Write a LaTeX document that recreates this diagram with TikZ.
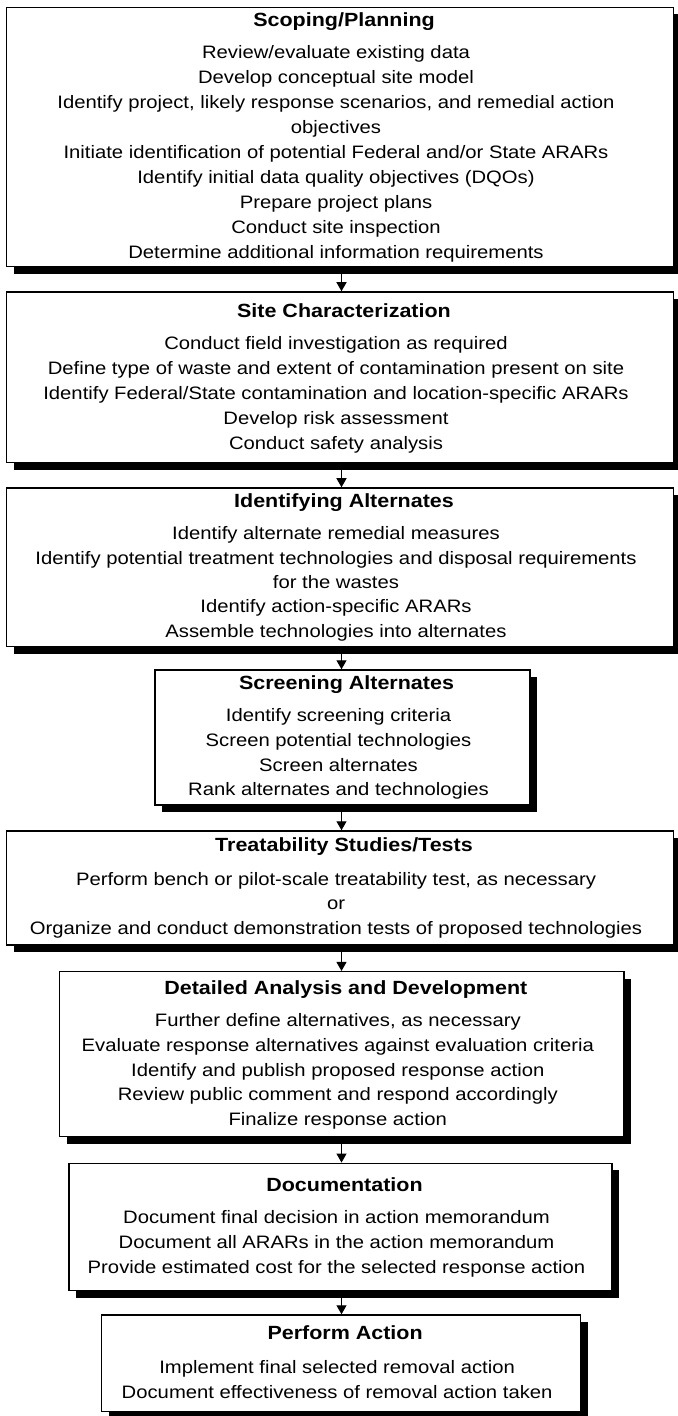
\documentclass[tikz,border=0pt]{standalone}
\usepackage{fontspec}
\setmainfont{Liberation Sans}[FakeStretch=1.125]
\usetikzlibrary{arrows.meta,shadows}
\begin{document}
\begin{tikzpicture}[x=0.5pt,y=-0.5pt,
  box/.style={draw=black, line width=0.75pt, fill=white, rectangle, inner sep=0pt,
    drop shadow={shadow xshift=3.5pt, shadow yshift=-3.5pt, fill=black, opacity=1}},
  ttl/.style={anchor=base, inner sep=0pt, font=\fontsize{9.55}{11}\selectfont\bfseries},
  bdy/.style={anchor=base, inner sep=0pt, font=\fontsize{9}{11}\selectfont},
  arr/.style={line width=0.6pt, -{Triangle[width=5pt,length=4.5pt]}}]
\useasboundingbox (0,0) rectangle (677,1416);
\fill[white] (0,0) rectangle (677,1416);

% boxes
\node[box, minimum width=333.5pt, minimum height=129.6pt] (b1) at (340,137.1) {};
\node[box, minimum width=333.5pt, minimum height=85.35pt] (b2) at (340,377.35) {};
\node[box, minimum width=333.5pt, minimum height=79.35pt] (b3) at (340,567.35) {};
\node[box, minimum width=187.5pt, minimum height=67.5pt] (b4) at (342.5,737.5) {};
\node[box, minimum width=333.5pt, minimum height=57pt] (b5) at (340,888) {};
\node[box, minimum width=282.2pt, minimum height=82.5pt] (b6) at (341.8,1054.2) {};
\node[box, minimum width=271.5pt, minimum height=63.7pt] (b7) at (340.5,1227) {};
\node[box, minimum width=239.6pt, minimum height=48.35pt] (b8) at (341.1,1363.35) {};

% box 1
\node[ttl] (t1) at (344,26.5) {Scoping/Planning};
\node[bdy] (l1a) at (336,58.2) {Review/evaluate existing data};
\node[bdy] (l1b) at (336,83.2) {Develop conceptual site model};
\node[bdy] (l1c) at (336,108.2) {Identify project, likely response scenarios, and remedial action};
\node[bdy] (l1d) at (336,133.2) {objectives};
\node[bdy] (l1e) at (336,158.2) {Initiate identification of potential Federal and/or State ARARs};
\node[bdy] (l1f) at (336,183.2) {Identify initial data quality objectives (DQOs)};
\node[bdy] (l1g) at (336,208.2) {Prepare project plans};
\node[bdy] (l1h) at (336,233.2) {Conduct site inspection};
\node[bdy] (l1i) at (336,258.2) {Determine additional information requirements};

% box 2
\node[ttl] (t2) at (344,317.2) {Site Characterization};
\node[bdy] (l2a) at (336,349.8) {Conduct field investigation as required};
\node[bdy] (l2b) at (336,374.8) {Define type of waste and extent of contamination present on site};
\node[bdy] (l2c) at (336,399.8) {Identify Federal/State contamination and location-specific ARARs};
\node[bdy] (l2d) at (336,424.8) {Develop risk assessment};
\node[bdy] (l2e) at (336,449.8) {Conduct safety analysis};

% box 3
\node[ttl] (t3) at (344,507.5) {Identifying Alternates};
\node[bdy] (l3a) at (336,539.8) {Identify alternate remedial measures};
\node[bdy] (l3b) at (336,564.1) {Identify potential treatment technologies and disposal requirements};
\node[bdy] (l3c) at (336,588.4) {for the wastes};
\node[bdy] (l3d) at (336,612.7) {Identify action-specific ARARs};
\node[bdy] (l3e) at (336,637) {Assemble technologies into alternates};

% box 4
\node[ttl] (t4) at (346.5,689.8) {Screening Alternates};
\node[bdy] (l4a) at (338.5,721.5) {Identify screening criteria};
\node[bdy] (l4b) at (338.5,746.3) {Screen potential technologies};
\node[bdy] (l4c) at (338.5,771.1) {Screen alternates};
\node[bdy] (l4d) at (338.5,795.9) {Rank alternates and technologies};

% box 5
\node[ttl] (t5) at (344,851.5) {Treatability Studies/Tests};
\node[bdy] (l5a) at (336,885.5) {Perform bench or pilot-scale treatability test, as necessary};
\node[bdy] (l5b) at (336,909.5) {or};
\node[bdy] (l5c) at (336,934.5) {Organize and conduct demonstration tests of proposed technologies};

% box 6
\node[ttl] (t6) at (345.8,994.8) {Detailed Analysis and Development};
\node[bdy] (l6a) at (337.8,1026.5) {Further define alternatives, as necessary};
\node[bdy] (l6b) at (337.8,1051.3) {Evaluate response alternatives against evaluation criteria};
\node[bdy] (l6c) at (337.8,1076.1) {Identify and publish proposed response action};
\node[bdy] (l6d) at (337.8,1100.9) {Review public comment and respond accordingly};
\node[bdy] (l6e) at (337.8,1125.7) {Finalize response action};

% box 7
\node[ttl] (t7) at (344.5,1191.5) {Documentation};
\node[bdy] (l7a) at (336.5,1223.2) {Document final decision in action memorandum};
\node[bdy] (l7b) at (336.5,1248.2) {Document all ARARs in the action memorandum};
\node[bdy] (l7c) at (336.5,1273.2) {Provide estimated cost for the selected response action};

% box 8
\node[ttl] (t8) at (345.1,1339.8) {Perform Action};
\node[bdy] (l8a) at (337.1,1373.2) {Implement final selected removal action};
\node[bdy] (l8b) at (337.1,1398.2) {Document effectiveness of removal action taken};

% arrows
\coordinate (ax) at (341.5,0);
\draw[arr] (b1.south -| ax) -- (b2.north -| ax);
\draw[arr] (b2.south -| ax) -- (b3.north -| ax);
\draw[arr] (b3.south -| ax) -- (b4.north -| ax);
\draw[arr] (b4.south -| ax) -- (b5.north -| ax);
\draw[arr] (b5.south -| ax) -- (b6.north -| ax);
\draw[arr] (b6.south -| ax) -- (b7.north -| ax);
\draw[arr] (b7.south -| ax) -- (b8.north -| ax);
\end{tikzpicture}
\end{document}
